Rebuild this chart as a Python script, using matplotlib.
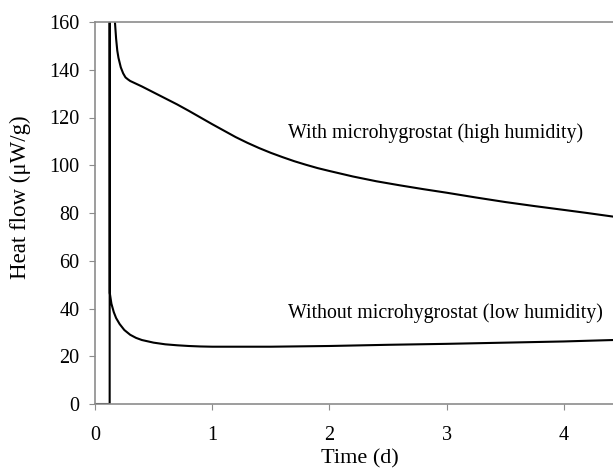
import matplotlib
matplotlib.use("Agg")
import matplotlib.pyplot as plt

plt.rcParams['font.family'] = ['Liberation Serif', 'DejaVu Serif']

# high humidity curve (with microhygrostat)
t_high = [0.165, 0.17, 0.18, 0.19, 0.20, 0.22, 0.24, 0.26, 0.28, 0.30, 0.40, 0.50,
          0.60, 0.70, 0.80, 0.90, 1.00, 1.10, 1.20, 1.30, 1.40, 1.50, 1.60, 1.70,
          1.80, 1.90, 2.00, 2.20, 2.40, 2.60, 2.80, 3.00, 3.25, 3.50, 3.75, 4.00,
          4.20, 4.42]
q_high = [175, 160, 153, 148, 145, 141, 138.5, 136.8, 136, 135.3, 133, 130.5,
          128, 125.5, 122.8, 120, 117.2, 114.5, 111.8, 109.4, 107.2, 105.2, 103.4, 101.7,
          100.2, 98.8, 97.6, 95.3, 93.3, 91.6, 90, 88.5, 86.5, 84.6, 82.9, 81.3,
          80, 78.5]

# low humidity curve (without microhygrostat), incl. baseline and injection spike
t_low = [0, 0.125, 0.125, 0.126, 0.14, 0.16, 0.18, 0.21, 0.25, 0.30, 0.35, 0.40,
         0.50, 0.60, 0.70, 0.80, 0.90, 1.00, 1.50, 2.00, 2.50, 3.00, 3.50, 4.00, 4.42]
q_low = [0, 0, 200, 46.5, 42, 38.5, 36, 33.5, 31, 29, 27.7, 26.8,
         25.7, 25, 24.6, 24.3, 24.1, 24, 24, 24.3, 24.8, 25.2, 25.7, 26.2, 26.8]

fig = plt.figure(figsize=(6.13, 4.70), dpi=100)
ax = fig.add_axes([0.155, 0.1404, 0.845, 0.8128])

ax.plot(t_high, q_high, color='black', lw=1.5)
ax.plot(t_low, q_low, color='black', lw=1.5)

ax.text(1.65, 113.5, 'With microhygrostat (high humidity)', fontsize=14.3, va='center')
ax.text(1.65, 38, 'Without microhygrostat (low humidity)', fontsize=14.3, va='center')

ax.set_xlim(0, 4.42)
ax.set_ylim(0, 160)
ax.set_xticks([0, 1, 2, 3, 4])
ax.set_yticks(range(0, 161, 20))

for s in ['left', 'top', 'bottom']:
    ax.spines[s].set_color('#8c8c8c')
    ax.spines[s].set_linewidth(1.2)
ax.spines['right'].set_visible(False)
ax.tick_params(axis='both', direction='out', length=4, color='#8c8c8c',
               labelsize=14.5, labelcolor='black')
ax.tick_params(axis='x', pad=12)
ax.tick_params(axis='y', pad=7)

ax.set_xlabel('Time (d)', fontsize=16, va='center')
ax.set_ylabel('Heat flow (\u03bcW/g)', fontsize=16.5, va='center')
ax.xaxis.set_label_coords((360 - 95) / (613 - 95), -(459 - 404) / (404 - 22))
ax.yaxis.set_label_coords(-(95 - 20) / (613 - 95), (404 - 197) / (404 - 22))

fig.savefig('out.png', dpi=100)
